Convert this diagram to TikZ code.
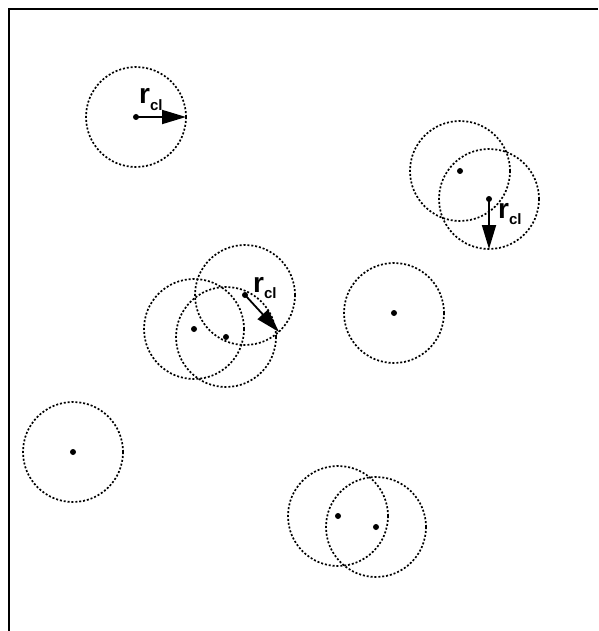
\documentclass[tikz,border=0pt]{standalone}
\usepackage{fontspec}
\setsansfont{Liberation Sans}
\usetikzlibrary{arrows.meta}

\newcommand{\rclabel}{{\fontsize{28}{28}\selectfont r\raisebox{-6.5pt}{\fontsize{15}{15}\selectfont cl}}}

\begin{document}
\begin{tikzpicture}[x=1pt, y=-1pt,
  zone/.style={draw, line width=1.7pt, dash pattern=on 2pt off 1.9pt},
  centre/.style={fill=black},
  radius arrow/.style={draw, line width=1.8pt,
                       -{Triangle[length=24pt, width=14pt]}},
  rlabel/.style={inner sep=0pt, anchor=base west, font=\sffamily\bfseries},
  frame/.style={draw, line width=2pt}]

\useasboundingbox (0,0) rectangle (598,631);
\draw[frame] (598,9) -- (9,9) -- (9,631);

% cluster centres with their circles
\foreach \name/\x/\y in {cA/136/117, cB/460/171, cC/489/199,
                         cD/245/295, cE/194/329, cF/226/337,
                         cG/394/313, cH/73/452, cI/338/516, cJ/376/527}{
  \coordinate (\name) at (\x,\y);
  \draw[zone] (\name) circle (50pt);
  \fill[centre] (\name) circle (3pt);
}

% radius arrows
\coordinate (tA) at (186,117);
\coordinate (tC) at (489,249);
\coordinate (tD) at (279,332);
\draw[radius arrow] (cA) -- (tA);
\draw[radius arrow] (cC) -- (tC);
\draw[radius arrow] (cD) -- (tD);

\node[rlabel] (lA) at (139,104) {\rclabel};
\node[rlabel] (lC) at (498,218) {\rclabel};
\node[rlabel] (lD) at (253,292) {\rclabel};
\end{tikzpicture}
\end{document}
